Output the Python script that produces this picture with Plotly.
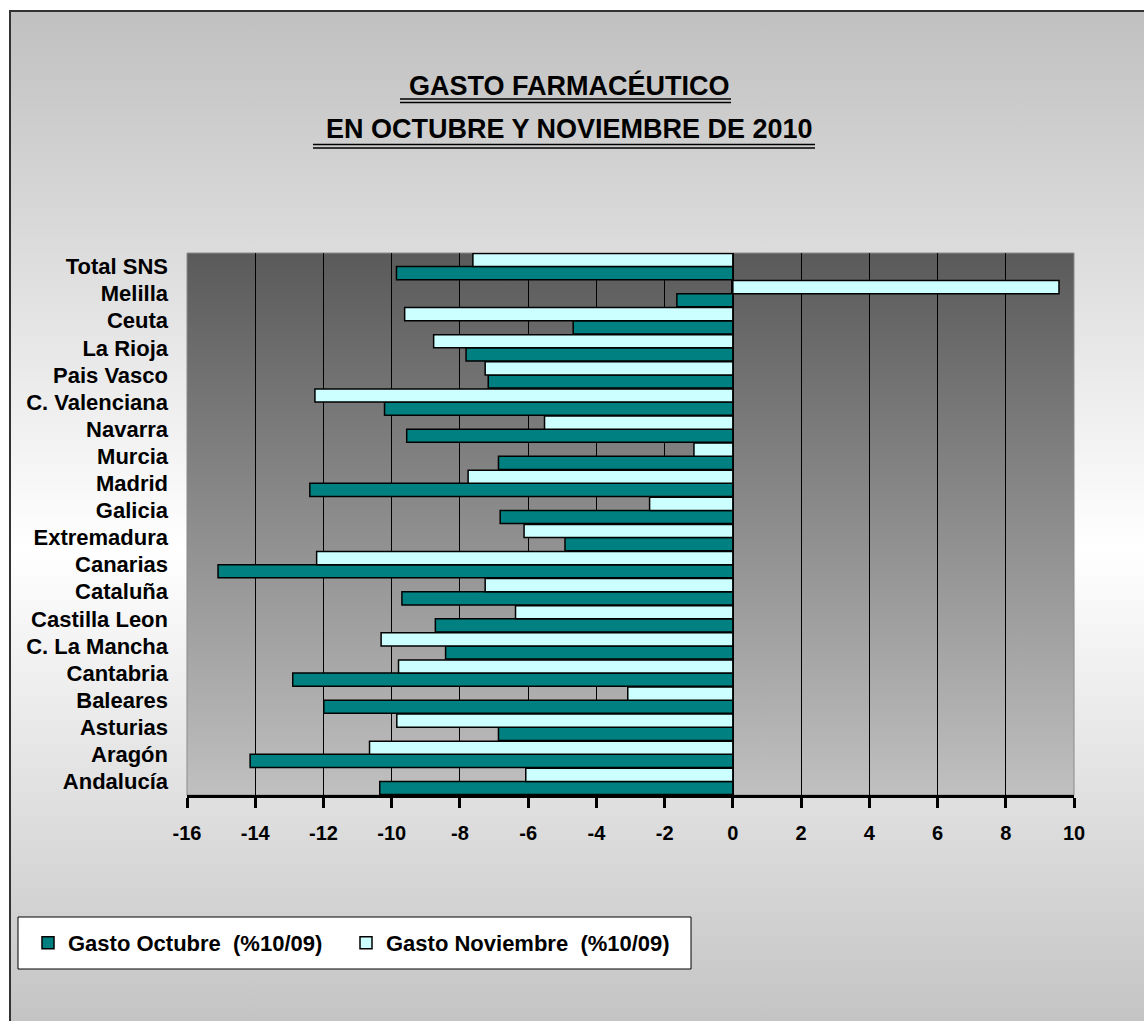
import base64
import plotly.graph_objects as go

# ---------------- data (bottom -> top as drawn) ----------------
regiones = ["Andalucía", "Aragón", "Asturias", "Baleares", "Cantabria",
            "C. La Mancha", "Castilla Leon", "Cataluña", "Canarias", "Extremadura",
            "Galicia", "Madrid", "Murcia", "Navarra", "C. Valenciana",
            "Pais Vasco", "La Rioja", "Ceuta", "Melilla", "Total SNS"]
gasto_octubre = [-10.35, -14.15, -6.87, -11.99, -12.90,
                 -8.42, -8.72, -9.70, -15.09, -4.92,
                 -6.82, -12.40, -6.87, -9.56, -10.21,
                 -7.17, -7.82, -4.68, -1.64, -9.86]
gasto_noviembre = [-6.07, -10.65, -9.85, -3.08, -9.80,
                   -10.31, -6.37, -7.26, -12.20, -6.12,
                   -2.44, -7.76, -1.14, -5.52, -12.25,
                   -7.26, -8.77, -9.62, 9.56, -7.62]
nombre_oct = "Gasto Octubre  (%10/09)"
nombre_nov = "Gasto Noviembre  (%10/09)"
titulo_1 = "GASTO FARMACÉUTICO"
titulo_2 = "EN OCTUBRE Y NOVIEMBRE DE 2010"
x_ticks = list(range(-16, 11, 2))

# ---------------- layout geometry (pixels) ----------------
FW, FH = 1144, 1021
L, R, T, B = 187, 1074, 253, 795
PW, PH = R - L, B - T


def px(x):
    return (x - L) / PW


def py(y):
    return (B - y) / PH


def grad_svg(stops):
    s = "".join(f'<stop offset="{o}" stop-color="{c}"/>' for o, c in stops)
    svg = ('<svg xmlns="http://www.w3.org/2000/svg" width="100" height="100" '
           'viewBox="0 0 100 100" preserveAspectRatio="none"><defs>'
           f'<linearGradient id="g" x1="0" y1="0" x2="0" y2="1">{s}</linearGradient>'
           '</defs><rect width="100" height="100" fill="url(#g)"/></svg>')
    return "data:image/svg+xml;base64," + base64.b64encode(svg.encode()).decode()


FONT = "Liberation Sans, Arial, sans-serif"
TEAL = "#008080"
CYAN = "#CCFFFF"
LEG_FONT = dict(family=FONT, size=22, color="black", weight="bold")

fig = go.Figure()
fig.add_trace(go.Bar(y=regiones, x=gasto_octubre, orientation="h", name=nombre_oct,
                     legend="legend",
                     marker=dict(color=TEAL, line=dict(color="black", width=1.5))))
fig.add_trace(go.Bar(y=regiones, x=gasto_noviembre, orientation="h", name=nombre_nov,
                     legend="legend2",
                     marker=dict(color=CYAN, line=dict(color="black", width=1.5))))

images = [
    dict(source=grad_svg([(0, "#c0c0c0"), (0.534, "#ffffff"), (1, "#c4c4c4")]),
         xref="paper", yref="paper", x=px(10), y=py(11),
         sizex=(FW + 20 - 10) / PW, sizey=(FH - 11) / PH,
         xanchor="left", yanchor="top", sizing="stretch", layer="below"),
    dict(source=grad_svg([(0, "#5a5a5a"), (1, "#c0c0c0")]),
         xref="paper", yref="paper", x=0, y=1, sizex=1, sizey=1,
         xanchor="left", yanchor="top", sizing="stretch", layer="below"),
]

shapes = [
    # chart border
    dict(type="rect", xref="paper", yref="paper", x0=px(10), x1=px(1170),
         y0=py(11), y1=py(1050), line=dict(color="#333333", width=2), layer="below"),
    # plot area border
    dict(type="rect", xref="paper", yref="paper", x0=0, x1=1, y0=0, y1=1,
         line=dict(color="#8a8a8a", width=1), layer="below"),
    # legend box
    dict(type="rect", xref="paper", yref="paper", x0=px(18), x1=px(691),
         y0=py(917), y1=py(969), fillcolor="white",
         line=dict(color="black", width=1), layer="below"),
]
# double underlines of the title
for (x0, x1, ys) in [(400, 731, (99, 102.5)), (313, 815, (144.5, 148))]:
    for yy in ys:
        shapes.append(dict(type="line", xref="paper", yref="paper",
                           x0=px(x0), x1=px(x1), y0=py(yy), y1=py(yy),
                           line=dict(color="black", width=1.5)))

annotations = [
    dict(text=titulo_1, xref="paper", yref="paper", x=px(569), y=py(85),
         xanchor="center", yanchor="middle", showarrow=False,
         font=dict(family=FONT, size=27, color="black", weight="bold")),
    dict(text=titulo_2, xref="paper", yref="paper", x=px(569), y=py(129),
         xanchor="center", yanchor="middle", showarrow=False,
         font=dict(family=FONT, size=27, color="black", weight="bold")),
]

fig.update_layout(
    width=FW, height=FH,
    margin=dict(l=L, r=FW - R, t=T, b=FH - B, autoexpand=False),
    paper_bgcolor="white", plot_bgcolor="rgba(0,0,0,0)",
    barmode="group", bargap=0.03, bargroupgap=0,
    images=images, shapes=shapes, annotations=annotations,
    showlegend=True,
    legend=dict(orientation="h", x=px(28), y=py(943), xanchor="left", yanchor="middle",
                bgcolor="rgba(0,0,0,0)", borderwidth=0, font=LEG_FONT),
    legend2=dict(orientation="h", x=px(346), y=py(943), xanchor="left", yanchor="middle",
                 bgcolor="rgba(0,0,0,0)", borderwidth=0, font=LEG_FONT),
    font=dict(family=FONT, color="black"),
)
fig.update_xaxes(range=[-16, 10], tickvals=x_ticks, ticktext=[str(v) for v in x_ticks],
                 showgrid=True, gridcolor="black", gridwidth=1,
                 zeroline=True, zerolinecolor="black", zerolinewidth=3,
                 showline=True, linecolor="black", linewidth=3,
                 ticks="outside", ticklen=10, tickwidth=3, tickcolor="black",
                 ticklabelstandoff=8,
                 tickfont=dict(family=FONT, size=20, color="black", weight="bold"))
fig.update_yaxes(categoryorder="array", categoryarray=regiones,
                 showgrid=False, zeroline=False, showline=False, ticks="",
                 ticklabelstandoff=18,
                 tickfont=dict(family=FONT, size=22, color="black", weight="bold"))

fig.write_html("out.html", config={"displayModeBar": False},
               post_script="document.body.style.margin='0';document.body.style.overflow='hidden';")
